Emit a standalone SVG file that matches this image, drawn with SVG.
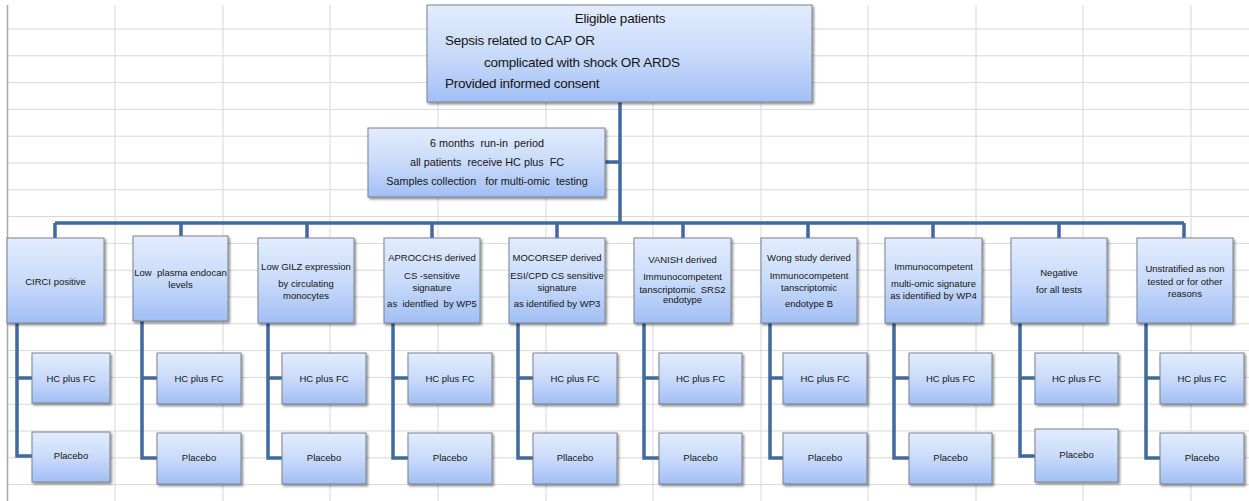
<svg xmlns="http://www.w3.org/2000/svg" width="1249" height="501" viewBox="0 0 1249 501">
<defs>
<linearGradient id="bf" x1="0" y1="0" x2="0" y2="1">
<stop offset="0" stop-color="#e2ecfd"/>
<stop offset="0.5" stop-color="#c9dbfa"/>
<stop offset="1" stop-color="#a1bff5"/>
</linearGradient>
<filter id="sh" x="-10%" y="-10%" width="130%" height="130%">
<feDropShadow dx="1.5" dy="1.8" stdDeviation="1" flood-color="#000" flood-opacity="0.45"/>
</filter>
<style>
.box{fill:url(#bf);stroke:#7b8190;stroke-width:1;filter:url(#sh)}
.grid line{stroke:#d8d8d8;stroke-width:1}
.con path{fill:none;stroke:#40699f;stroke-width:3.5;stroke-linejoin:miter}
text{font-family:"Liberation Sans",Arial,sans-serif;fill:#151515;white-space:pre}
.t2{font-size:9.5px;text-anchor:middle}
.t3{font-size:9.5px;text-anchor:middle}
.t1{font-size:13.5px;letter-spacing:-0.25px}
.tr{font-size:10.8px;text-anchor:middle}
</style>
</defs>
<rect x="0" y="0" width="1249" height="501" fill="#ffffff"/>
<g class="grid">
<line x1="115" y1="5" x2="115" y2="501"/><line x1="223" y1="5" x2="223" y2="501"/><line x1="330" y1="5" x2="330" y2="501"/><line x1="438" y1="5" x2="438" y2="501"/><line x1="546" y1="5" x2="546" y2="501"/><line x1="653" y1="5" x2="653" y2="501"/><line x1="761" y1="5" x2="761" y2="501"/><line x1="868" y1="5" x2="868" y2="501"/><line x1="976" y1="5" x2="976" y2="501"/><line x1="1083" y1="5" x2="1083" y2="501"/><line x1="1191" y1="5" x2="1191" y2="501"/>
<line x1="7" y1="29" x2="1249" y2="29"/><line x1="7" y1="55.8" x2="1249" y2="55.8"/><line x1="7" y1="82.6" x2="1249" y2="82.6"/><line x1="7" y1="109.4" x2="1249" y2="109.4"/><line x1="7" y1="136.2" x2="1249" y2="136.2"/><line x1="7" y1="163" x2="1249" y2="163"/><line x1="7" y1="189.8" x2="1249" y2="189.8"/><line x1="7" y1="216.6" x2="1249" y2="216.6"/><line x1="7" y1="243.4" x2="1249" y2="243.4"/><line x1="7" y1="270.2" x2="1249" y2="270.2"/><line x1="7" y1="297" x2="1249" y2="297"/><line x1="7" y1="323.8" x2="1249" y2="323.8"/><line x1="7" y1="350.6" x2="1249" y2="350.6"/><line x1="7" y1="377.4" x2="1249" y2="377.4"/><line x1="7" y1="404.2" x2="1249" y2="404.2"/><line x1="7" y1="431" x2="1249" y2="431"/><line x1="7" y1="457.8" x2="1249" y2="457.8"/><line x1="7" y1="484.6" x2="1249" y2="484.6"/>
<line x1="7.5" y1="5" x2="7.5" y2="501" style="stroke:#a9a9a9;stroke-width:1.5"/>
</g>
<g class="con" id="connectors">
<path d="M620,102 V223"/>
<path d="M605,162 H620"/>
<path d="M55,223 H1184"/>
<path d="M55,223 V238 M181,223 V236 M307,223 V238 M432,223 V238 M557,223 V238 M683,223 V238 M808,223 V238 M933,223 V238 M1059,223 V238 M1184,223 V238"/>
<path d="M17,323 V456 H32 M17,378 H32"/>
<path d="M142,321 V458 H157 M142,378 H157"/>
<path d="M268,323 V458 H282 M268,378 H282"/>
<path d="M393,323 V458 H408 M393,378 H408"/>
<path d="M518,323 V458 H533 M518,378 H533"/>
<path d="M644,323 V458 H659 M644,378 H659"/>
<path d="M770,323 V458 H783 M770,378 H783"/>
<path d="M894,323 V458 H909 M894,378 H909"/>
<path d="M1020,323 V456 H1035 M1020,378 H1035"/>
<path d="M1146,323 V458 H1160 M1146,378 H1160"/>
</g>
<g id="eligible">
<rect class="box" x="427" y="5" width="385" height="97"/>
<text class="t1" x="620" y="23" text-anchor="middle">Eligible patients</text>
<text class="t1" x="445" y="45">Sepsis related to CAP OR</text>
<text class="t1" x="484" y="67">complicated with shock OR ARDS</text>
<text class="t1" x="445" y="88">Provided informed consent</text>
</g>
<g id="runin">
<rect class="box" x="368" y="128" width="237" height="69"/>
<text class="tr" x="487" y="147">6 months  run-in  period</text>
<text class="tr" x="487" y="166">all patients  receive HC plus  FC</text>
<text class="tr" x="487" y="185">Samples collection   for multi-omic  testing</text>
</g>
<g id="n1">
<rect class="box" x="7" y="238" width="97" height="85"/>
<text class="t2" x="55.5" y="284.5">CIRCI positive</text>
</g>
<g id="n2">
<rect class="box" x="133" y="236" width="95" height="85"/>
<text class="t2" x="180.5" y="275.5">Low  plasma endocan</text>
<text class="t2" x="180.5" y="287.5">levels</text>
</g>
<g id="n3">
<rect class="box" x="258" y="238" width="96" height="85"/>
<text class="t2" x="306" y="269.5">Low GILZ expression</text>
<text class="t2" x="306" y="286.5">by circulating</text>
<text class="t2" x="306" y="298.5">monocytes</text>
</g>
<g id="n4">
<rect class="box" x="384" y="238" width="96" height="85"/>
<text class="t2" x="432" y="260.5">APROCCHS derived</text>
<text class="t2" x="432" y="278.5">CS -sensitive</text>
<text class="t2" x="432" y="290.5">signature</text>
<text class="t2" x="432" y="306.5">as  identfied  by WP5</text>
</g>
<g id="n5">
<rect class="box" x="509" y="238" width="96" height="85"/>
<text class="t2" x="557" y="260.5">MOCORSEP derived</text>
<text class="t2" x="557" y="278.5">ESI/CPD CS sensitive</text>
<text class="t2" x="557" y="290.5">signature</text>
<text class="t2" x="557" y="306.5">as identified by WP3</text>
</g>
<g id="n6">
<rect class="box" x="634" y="238" width="97" height="85"/>
<text class="t2" x="682.5" y="262.5">VANISH derived</text>
<text class="t2" x="682.5" y="279.5">Immunocompetent</text>
<text class="t2" x="682.5" y="292.5">tanscriptomic  SRS2</text>
<text class="t2" x="682.5" y="302.5">endotype</text>
</g>
<g id="n7">
<rect class="box" x="761" y="238" width="96" height="85"/>
<text class="t2" x="809" y="260.5">Wong study derived</text>
<text class="t2" x="809" y="278.5">Immunocompetent</text>
<text class="t2" x="809" y="290.5">tanscriptomic</text>
<text class="t2" x="809" y="306.5">endotype B</text>
</g>
<g id="n8">
<rect class="box" x="885" y="238" width="97" height="85"/>
<text class="t2" x="933.5" y="269.5">Immunocompetent</text>
<text class="t2" x="933.5" y="286.5">multi-omic signature</text>
<text class="t2" x="933.5" y="298.5">as identified by WP4</text>
</g>
<g id="n9">
<rect class="box" x="1011" y="238" width="96" height="85"/>
<text class="t2" x="1059" y="275.5">Negative</text>
<text class="t2" x="1059" y="292.5">for all tests</text>
</g>
<g id="n10">
<rect class="box" x="1137" y="238" width="96" height="85"/>
<text class="t2" x="1185" y="271.5">Unstratified as non</text>
<text class="t2" x="1185" y="284.5">tested or for other</text>
<text class="t2" x="1185" y="296.5">reasons</text>
</g>
<g id="hc1"><rect class="box" x="32" y="353" width="78" height="50"/><text class="t3" x="71" y="381.5">HC plus FC</text></g>
<g id="pl1"><rect class="box" x="32" y="432" width="78" height="50"/><text class="t3" x="71" y="458.5">Placebo</text></g>
<g id="hc2"><rect class="box" x="157" y="353" width="84" height="51"/><text class="t3" x="199" y="381.5">HC plus FC</text></g>
<g id="pl2"><rect class="box" x="157" y="433" width="84" height="51"/><text class="t3" x="199" y="461">Placebo</text></g>
<g id="hc3"><rect class="box" x="282" y="353" width="84" height="51"/><text class="t3" x="324" y="381.5">HC plus FC</text></g>
<g id="pl3"><rect class="box" x="282" y="433" width="84" height="51"/><text class="t3" x="324" y="461">Placebo</text></g>
<g id="hc4"><rect class="box" x="408" y="353" width="84" height="51"/><text class="t3" x="450" y="381.5">HC plus FC</text></g>
<g id="pl4"><rect class="box" x="408" y="433" width="84" height="51"/><text class="t3" x="450" y="461">Placebo</text></g>
<g id="hc5"><rect class="box" x="533" y="353" width="84" height="51"/><text class="t3" x="575" y="381.5">HC plus FC</text></g>
<g id="pl5"><rect class="box" x="533" y="433" width="84" height="51"/><text class="t3" x="575" y="461">Pllacebo</text></g>
<g id="hc6"><rect class="box" x="659" y="353" width="83" height="51"/><text class="t3" x="700.5" y="381.5">HC plus FC</text></g>
<g id="pl6"><rect class="box" x="659" y="433" width="83" height="51"/><text class="t3" x="700.5" y="461">Placebo</text></g>
<g id="hc7"><rect class="box" x="783" y="353" width="84" height="51"/><text class="t3" x="825" y="381.5">HC plus FC</text></g>
<g id="pl7"><rect class="box" x="783" y="433" width="84" height="51"/><text class="t3" x="825" y="461">Placebo</text></g>
<g id="hc8"><rect class="box" x="909" y="353" width="83" height="51"/><text class="t3" x="950.5" y="381.5">HC plus FC</text></g>
<g id="pl8"><rect class="box" x="909" y="433" width="83" height="51"/><text class="t3" x="950.5" y="461">Placebo</text></g>
<g id="hc9"><rect class="box" x="1035" y="353" width="83" height="51"/><text class="t3" x="1076.5" y="381.5">HC plus FC</text></g>
<g id="pl9"><rect class="box" x="1035" y="429" width="83" height="53"/><text class="t3" x="1076.5" y="457.5">Placebo</text></g>
<g id="hc10"><rect class="box" x="1160" y="353" width="84" height="51"/><text class="t3" x="1202" y="381.5">HC plus FC</text></g>
<g id="pl10"><rect class="box" x="1160" y="433" width="84" height="51"/><text class="t3" x="1202" y="461">Placebo</text></g>
</svg>
